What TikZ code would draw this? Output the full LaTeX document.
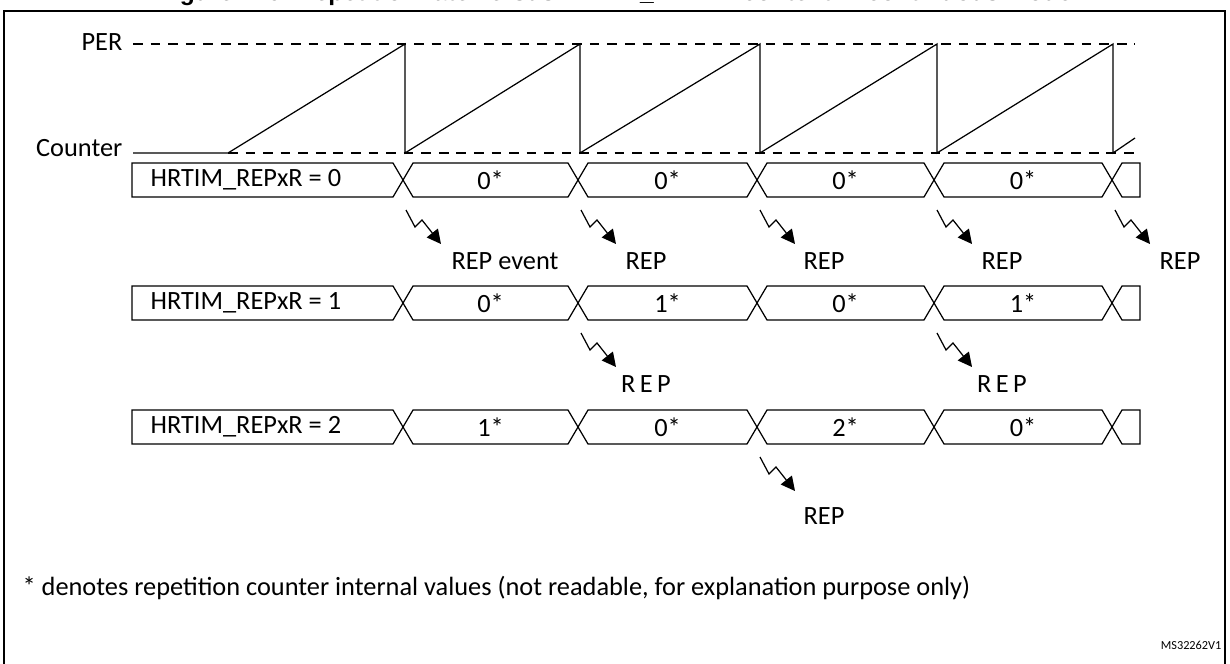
\documentclass[tikz,border=0pt]{standalone}
\usepackage{fontspec}
\setmainfont{Carlito}
\newfontfamily\titlefont{Liberation Sans}
\usetikzlibrary{arrows.meta}
\begin{document}
\begin{tikzpicture}[x=0.02cm,y=-0.02cm,line width=0.7pt,
    lbl/.style={inner sep=0pt,font=\fontsize{15}{17}\selectfont},
    refline/.style={dash pattern=on 5.5pt off 4.5pt},
    bus/.style={line join=miter},
    flash/.style={-{Triangle[length=8pt,width=8pt]}}]
  \useasboundingbox (0,0) rectangle (1230,663);
  \clip (0,0) rectangle (1230,663);
%% Title and frame
  \node[font=\titlefont\bfseries\fontsize{14}{16}\selectfont, anchor=base] (title) at (615,0) {Figure 216. Repetition rate versus HRTIM\_REPxR content in continuous mode};
  \draw (4,670) -- (4,11) -- (1225,11) -- (1225,670);
%% Counter
  \node[lbl, anchor=east] (per) at (123,42) {PER};
  \node[lbl, anchor=east] (cnt) at (123,148) {Counter};
  \draw[refline] (133,44) -- (1135,44);
  \draw[refline] (228,153) -- (1135,153);
  \draw (133,153) -- (228,153) -- (405,44) -- (405,153) -- (580,44) -- (580,153)
        -- (760,44) -- (760,153) -- (937,44) -- (937,153) -- (1113,44) -- (1113,153) -- (1135,138);
%% Register rows
  \foreach \r/\yc/\va/\vb/\vc/\vd in {0/180/0/0/0/0, 1/303/0/1/0/1, 2/427/1/0/2/0}{
    \draw[bus] (132,\yc-17) -- (393,\yc-17) -- (403,\yc) -- (393,\yc+17) -- (132,\yc+17) -- cycle;
    \node[lbl, anchor=west] (row\r) at (150,\yc) {HRTIM\_REPxR = \r};
    \foreach \xa/\xb/\v [count=\i] in {403/578/\va, 578/757/\vb, 757/934/\vc, 934/1112/\vd}{
      \draw[bus] (\xa,\yc) -- (\xa+10,\yc-17) -- (\xb-10,\yc-17) -- (\xb,\yc) -- (\xb-10,\yc+17) -- (\xa+10,\yc+17) -- cycle;
      \node[lbl] (val\r\i) at ({(\xa+\xb)/2},\yc) {\v*};
    }
    \draw[bus] (1112,\yc) -- (1122,\yc-17) -- (1140,\yc-17) -- (1140,\yc+17) -- (1122,\yc+17) -- cycle;
  }
%% REP events
  \foreach \n/\x/\y/\lx/\ly/\txt in {a/403/197/505/64/{REP event}, b/578/197/646/64/REP, c/757/197/824/64/REP,
      d/934/197/1002/64/REP, e/1112/197/1180/64/REP, f/578/320/646/64/{R\,E\,P}, g/934/320/1002/64/{R\,E\,P},
      h/757/444/824/72/REP}{
    \coordinate (s\n) at (\x+3,\y+13);
    \coordinate (t\n) at (\x+38,\y+47);
    \node[lbl, anchor=center] (rep\n) at (\lx,\y+\ly) {\txt};
    \draw[flash] (s\n) -- ++(9,17) -- ++(7,-7) -- (t\n);
  }
%% Note
  \node[lbl, anchor=west] (note) at (22,588) {* denotes repetition counter internal values (not readable, for explanation purpose only)};
  \node[inner sep=0pt, anchor=east, font=\fontsize{7}{8}\selectfont] (docid) at (1222,645) {MS32262V1};
\end{tikzpicture}
\end{document}
